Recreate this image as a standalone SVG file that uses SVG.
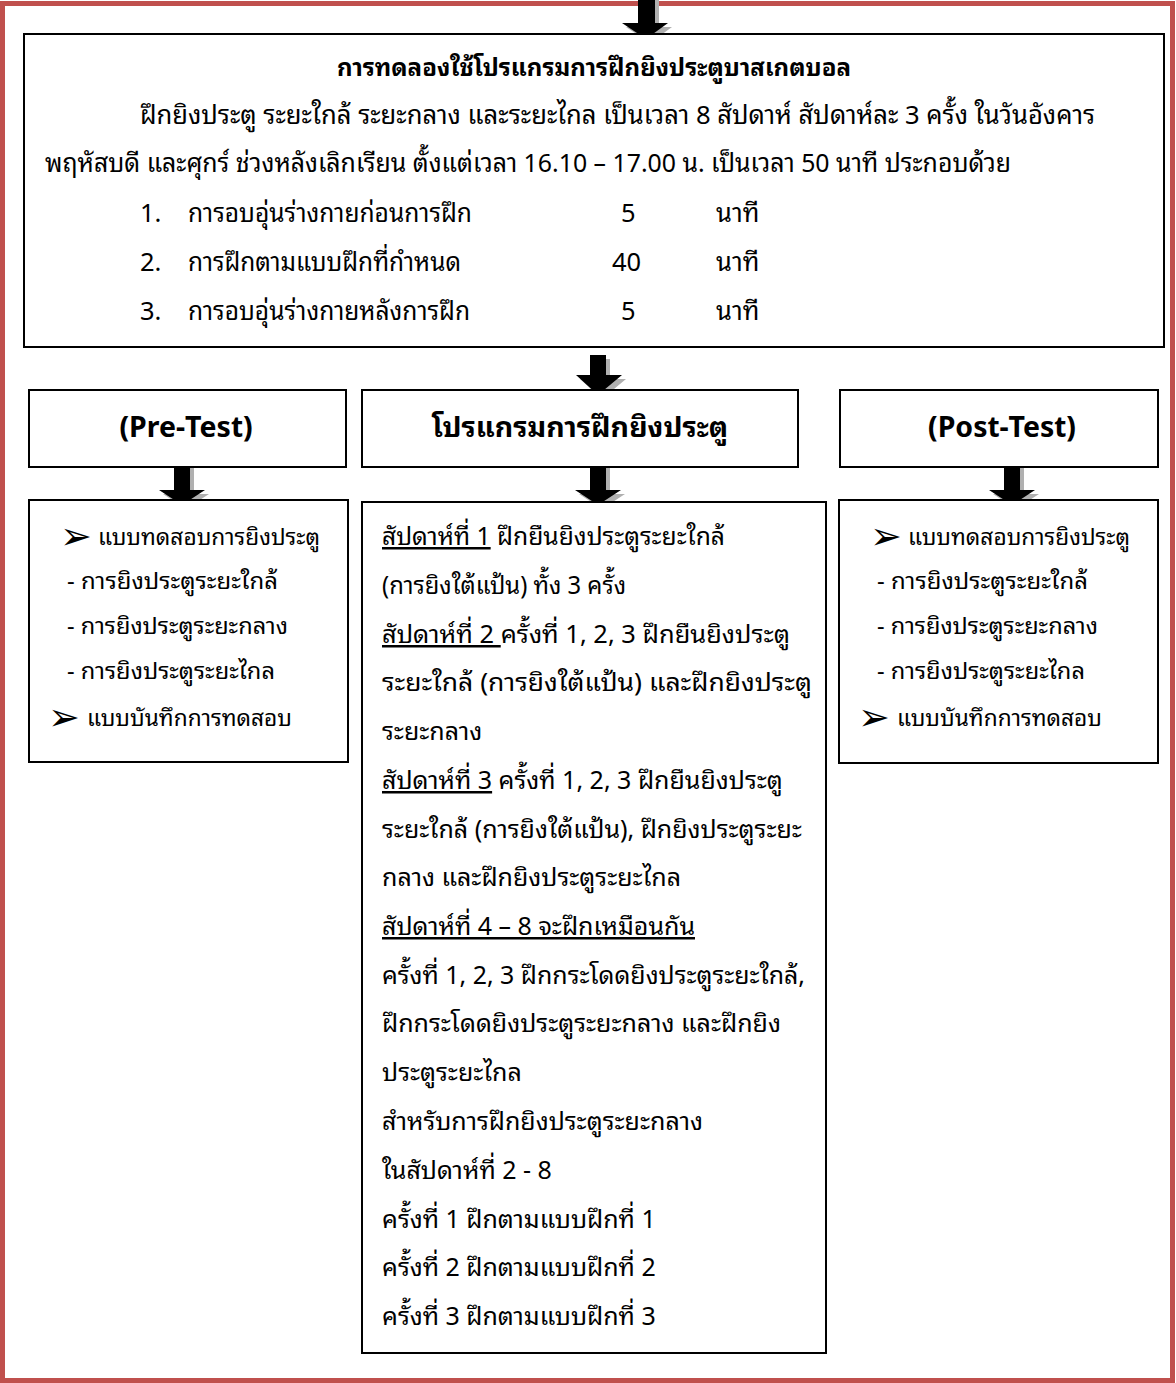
<svg xmlns="http://www.w3.org/2000/svg" width="1176" height="1383" viewBox="0 0 1176 1383">
<style>
text{font-family:"Noto Sans Thai Looped","Noto Sans Thai","Noto Sans","DejaVu Sans",sans-serif;font-size:25.5px;fill:#000}
.b{font-weight:bold;font-size:25px}
.h{font-size:28.5px;font-weight:bold}
.s{font-size:23.5px}
.m{font-size:25px}
.box{fill:#fff;stroke:#000;stroke-width:2}
.arr{fill:#000}
.sh{fill:#b0b0b0}
.u{text-decoration:underline}
.bl{font-family:"DejaVu Sans",sans-serif;font-size:38px}
</style>
<rect x="2.5" y="3.5" width="1170" height="1377" fill="#fff" stroke="#C0504D" stroke-width="5"/>
<g id="connectors">
<polygon class="sh" points="642,0 659,0 659,27 672,27 650,43 626,27 642,27"/>
<polygon class="arr" points="638,0 655,0 655,23 668,23 646,39 622,23 638,23"/>
<polygon class="sh" points="594,359 610,359 610,379 626,379 602,399 580,379 594,379"/>
<polygon class="arr" points="590,355 606,355 606,375 622,375 598,395 576,375 590,375"/>
<polygon class="sh" points="178,467 194,467 194,494 209,494 186,509 163,494 178,494"/>
<polygon class="arr" points="174,467 190,467 190,490 205,490 182,505 159,490 174,490"/>
<polygon class="sh" points="594,467 610,467 610,494 625,494 602,509 579,494 594,494"/>
<polygon class="arr" points="590,467 606,467 606,490 621,490 598,505 575,490 590,490"/>
<polygon class="sh" points="1008,467 1024,467 1024,494 1039,494 1016,509 993,494 1008,494"/>
<polygon class="arr" points="1004,467 1020,467 1020,490 1035,490 1012,505 989,490 1004,490"/>
</g>
<g id="experiment">
<rect class="box" x="24" y="34" width="1140" height="313"/>
<text class="b" x="594" y="76" text-anchor="middle" textLength="514" lengthAdjust="spacingAndGlyphs">การทดลองใช้โปรแกรมการฝึกยิงประตูบาสเกตบอล</text>
<text x="140" y="124" textLength="955" lengthAdjust="spacingAndGlyphs">ฝึกยิงประตู ระยะใกล้ ระยะกลาง และระยะไกล เป็นเวลา 8 สัปดาห์ สัปดาห์ละ 3 ครั้ง ในวันอังคาร</text>
<text x="45" y="172" textLength="966" lengthAdjust="spacingAndGlyphs">พฤหัสบดี และศุกร์ ช่วงหลังเลิกเรียน ตั้งแต่เวลา 16.10 – 17.00 น. เป็นเวลา 50 นาที ประกอบด้วย</text>
<text x="140" y="222">1.</text><text x="188" y="222" textLength="284" lengthAdjust="spacingAndGlyphs">การอบอุ่นร่างกายก่อนการฝึก</text><text x="621" y="222">5</text><text x="716" y="222">นาที</text>
<text x="140" y="271">2.</text><text x="188" y="271" textLength="273" lengthAdjust="spacingAndGlyphs">การฝึกตามแบบฝึกที่กำหนด</text><text x="612" y="271">40</text><text x="716" y="271">นาที</text>
<text x="140" y="320">3.</text><text x="188" y="320" textLength="282" lengthAdjust="spacingAndGlyphs">การอบอุ่นร่างกายหลังการฝึก</text><text x="621" y="320">5</text><text x="716" y="320">นาที</text>
</g>
<g id="pretest">
<rect class="box" x="29" y="390" width="317" height="77"/>
<text class="h" x="186" y="437" text-anchor="middle">(Pre-Test)</text>
</g>
<g id="program">
<rect class="box" x="362" y="390" width="436" height="77"/>
<text class="h" x="580" y="437" text-anchor="middle">โปรแกรมการฝึกยิงประตู</text>
</g>
<g id="posttest">
<rect class="box" x="840" y="390" width="318" height="77"/>
<text class="h" x="1002" y="437" text-anchor="middle">(Post-Test)</text>
</g>
<g id="pretest-detail">
<rect class="box" x="29" y="500" width="319" height="262"/>
<text class="bl" x="60" y="549">➢</text><text class="s" x="98" y="545" textLength="222" lengthAdjust="spacingAndGlyphs">แบบทดสอบการยิงประตู</text>
<text class="s" x="67" y="589" textLength="211" lengthAdjust="spacingAndGlyphs">- การยิงประตูระยะใกล้</text>
<text class="s" x="67" y="634" textLength="221" lengthAdjust="spacingAndGlyphs">- การยิงประตูระยะกลาง</text>
<text class="s" x="67" y="679" textLength="208" lengthAdjust="spacingAndGlyphs">- การยิงประตูระยะไกล</text>
<text class="bl" x="48" y="730">➢</text><text class="s" x="87" y="726" textLength="205" lengthAdjust="spacingAndGlyphs">แบบบันทึกการทดสอบ</text>
</g>
<g id="program-detail">
<rect class="box" x="362" y="502" width="464" height="851"/>
<text class="m" x="382" y="545" textLength="343" lengthAdjust="spacingAndGlyphs"><tspan class="u">สัปดาห์ที่ 1</tspan> ฝึกยืนยิงประตูระยะใกล้</text>
<text class="m" x="382" y="594" textLength="244" lengthAdjust="spacingAndGlyphs">(การยิงใต้แป้น) ทั้ง 3 ครั้ง</text>
<text class="m" x="382" y="643" textLength="408" lengthAdjust="spacingAndGlyphs"><tspan class="u">สัปดาห์ที่ 2 </tspan>ครั้งที่ 1, 2, 3 ฝึกยืนยิงประตู</text>
<text class="m" x="382" y="691" textLength="430" lengthAdjust="spacingAndGlyphs">ระยะใกล้ (การยิงใต้แป้น) และฝึกยิงประตู</text>
<text class="m" x="382" y="740">ระยะกลาง</text>
<text class="m" x="382" y="789"><tspan class="u">สัปดาห์ที่ 3</tspan> ครั้งที่ 1, 2, 3  ฝึกยืนยิงประตู</text>
<text class="m" x="382" y="838">ระยะใกล้ (การยิงใต้แป้น), ฝึกยิงประตูระยะ</text>
<text class="m" x="382" y="886">กลาง และฝึกยิงประตูระยะไกล</text>
<text class="m u" x="382" y="935">สัปดาห์ที่ 4 – 8 จะฝึกเหมือนกัน</text>
<text class="m" x="382" y="984" textLength="423" lengthAdjust="spacingAndGlyphs">ครั้งที่ 1, 2, 3 ฝึกกระโดดยิงประตูระยะใกล้,</text>
<text class="m" x="382" y="1032">ฝึกกระโดดยิงประตูระยะกลาง และฝึกยิง</text>
<text class="m" x="382" y="1081">ประตูระยะไกล</text>
<text class="m" x="382" y="1130">สำหรับการฝึกยิงประตูระยะกลาง</text>
<text class="m" x="382" y="1179">ในสัปดาห์ที่ 2 - 8</text>
<text class="m" x="382" y="1228">ครั้งที่ 1 ฝึกตามแบบฝึกที่ 1</text>
<text class="m" x="382" y="1276">ครั้งที่ 2 ฝึกตามแบบฝึกที่ 2</text>
<text class="m" x="382" y="1325">ครั้งที่ 3 ฝึกตามแบบฝึกที่ 3</text>
</g>
<g id="posttest-detail">
<rect class="box" x="839" y="500" width="319" height="263"/>
<text class="bl" x="870" y="549">➢</text><text class="s" x="908" y="545" textLength="222" lengthAdjust="spacingAndGlyphs">แบบทดสอบการยิงประตู</text>
<text class="s" x="877" y="589" textLength="211" lengthAdjust="spacingAndGlyphs">- การยิงประตูระยะใกล้</text>
<text class="s" x="877" y="634" textLength="221" lengthAdjust="spacingAndGlyphs">- การยิงประตูระยะกลาง</text>
<text class="s" x="877" y="679" textLength="208" lengthAdjust="spacingAndGlyphs">- การยิงประตูระยะไกล</text>
<text class="bl" x="858" y="730">➢</text><text class="s" x="897" y="726" textLength="205" lengthAdjust="spacingAndGlyphs">แบบบันทึกการทดสอบ</text>
</g>
</svg>
